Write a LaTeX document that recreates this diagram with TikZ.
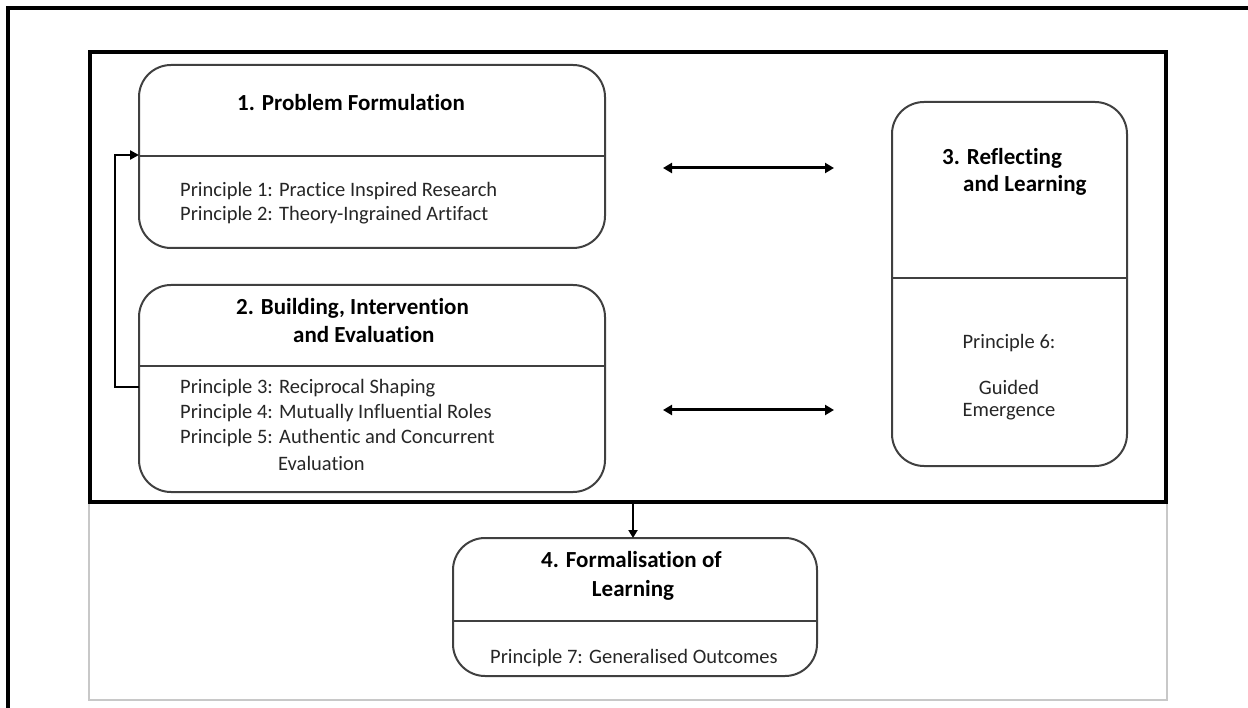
\documentclass[tikz,border=0pt]{standalone}
\usepackage{fontspec}
\setmainfont{Carlito}[Ligatures=NoCommon]
\usetikzlibrary{arrows.meta,calc}
\definecolor{boxline}{HTML}{404040}
\definecolor{bodytext}{HTML}{262626}
\definecolor{framegray}{HTML}{C8C8C8}
\begin{document}
\begin{tikzpicture}[x=1pt,y=-1pt,
  phase/.style={draw=boxline,line width=2pt,rounded corners=32pt,inner sep=0pt,outer sep=0pt},
  divider/.style={draw=boxline,line width=2pt},
  title/.style={font=\bfseries\fontsize{23}{27}\selectfont,text=black,inner sep=0pt},
  princ/.style={font=\fontsize{20.5}{24}\selectfont,text=bodytext,inner sep=0pt},
  link/.style={line width=3pt,{Triangle[length=9pt,width=10pt]}-{Triangle[length=9pt,width=10pt]}},
  flow/.style={line width=2.8pt,-{Triangle[length=9pt,width=9pt]}}]
\useasboundingbox (0,0) rectangle (1248,708);

% page frame and panels
\draw[line width=4pt] (8,708) -- (8,8) -- (1248,8);
\draw[framegray,line width=1.5pt] (89,52) rectangle (1167,700);
\draw[black,line width=3.5pt] (90,52) rectangle (1166,502);

% phase boxes
\node[phase,minimum width=466pt,minimum height=183pt] (b1) at (372,156.5) {};
\node[phase,minimum width=466pt,minimum height=207pt] (b2) at (372,388.5) {};
\node[phase,minimum width=235pt,minimum height=364pt] (b3) at (1009.5,284) {};
\node[phase,minimum width=364pt,minimum height=138pt] (b4) at (635,607) {};

% dividers between heading and principles
\draw[divider] (b1.west |- 0,156) -- (b1.east |- 0,156);
\draw[divider] (b2.west |- 0,366) -- (b2.east |- 0,366);
\draw[divider] (b3.west |- 0,278) -- (b3.east |- 0,278);
\draw[divider] (b4.west |- 0,621) -- (b4.east |- 0,621);

% box 1
\node[title,anchor=west] (t1) at (237,103) {1. Problem Formulation};
\node[princ,anchor=west] (p1) at (180,191) {Principle 1: Practice Inspired Research};
\node[princ,anchor=west] (p2) at (180,215) {Principle 2: Theory-Ingrained Artifact};

% box 2
\node[title,anchor=west] (t2a) at (236,308) {2. Building, Intervention};
\node[title,anchor=west] (t2b) at (293,335) {and Evaluation};
\node[princ,anchor=west] (p3) at (180,388) {Principle 3: Reciprocal Shaping};
\node[princ,anchor=west] (p4) at (180,413) {Principle 4: Mutually Influential Roles};
\node[princ,anchor=west] (p5) at (180,438) {Principle 5: Authentic and Concurrent};
\node[princ,anchor=west] (p5b) at (278,463) {Evaluation};

% box 3
\node[title,anchor=west] (t3a) at (942,158) {3. Reflecting};
\node[title,anchor=west] (t3b) at (963,185) {and Learning};
\node[princ] (p6) at (1009,343) {Principle 6:};
\node[princ] (p6a) at (1009,387) {Guided};
\node[princ] (p6b) at (1009,412) {Emergence};

% box 4
\node[title,anchor=west] (t4a) at (541,560) {4. Formalisation of};
\node[title] (t4b) at (633,590) {Learning};
\node[princ,anchor=west] (p7) at (490,658) {Principle 7: Generalised Outcomes};

% connectors
\coordinate (l1) at (663,168);
\coordinate (r1) at (834,168);
\coordinate (l2) at (663,410);
\coordinate (r2) at (834,410);
\draw[link] (l1) -- (r1);
\draw[link] (l2) -- (r2);

\coordinate (panelbot) at (633,503);
\draw[line width=2.5pt,-{Triangle[length=8pt,width=9pt]}] (panelbot) -- (panelbot |- b4.north);

\draw[flow] (b2.west |- 0,387) -- (115,387) -- (115,155) -- (b1.west |- 0,155);
\end{tikzpicture}
\end{document}
